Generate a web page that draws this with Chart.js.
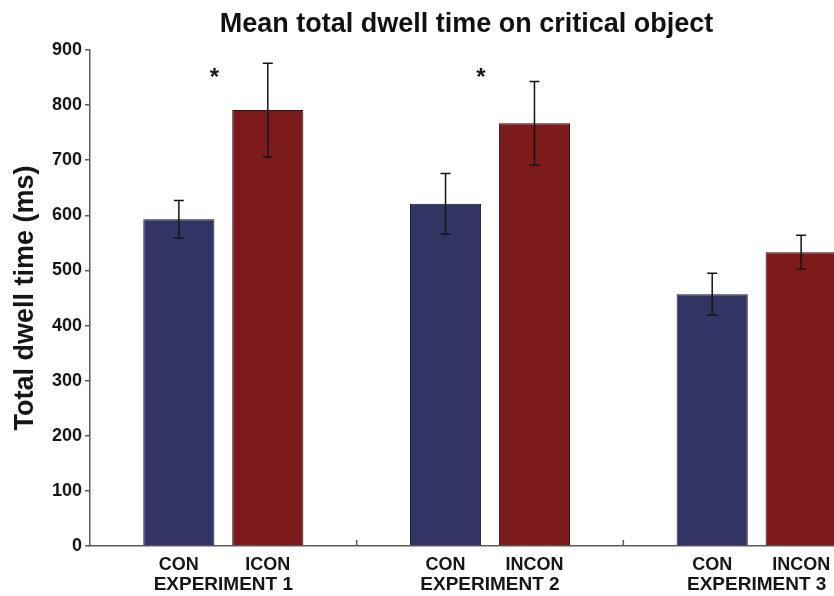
<!DOCTYPE html>
<html>
<head>
<meta charset="utf-8">
<title>Mean total dwell time on critical object</title>
<script src="https://cdn.jsdelivr.net/npm/chart.js@4.4.1/dist/chart.umd.min.js"></script>
<style>
  html, body { margin: 0; padding: 0; background: #ffffff; overflow: hidden; }
  #frame { width: 834px; height: 596px; overflow: hidden; position: relative; }
  #chart { display: block; }
</style>
</head>
<body>
<div id="frame">
  <canvas id="chart" width="900" height="596" style="width:900px;height:596px"></canvas>
</div>
<script>
// Experiments (x categories)
const experiments = ["EXPERIMENT 1", "EXPERIMENT 2", "EXPERIMENT 3"];

// Condition names printed under each bar
const conLabels = ["CON", "CON", "CON"];
const inconLabels = ["ICON", "INCON", "INCON"];

// Mean total dwell time (ms) and error half-widths
const conMeans = [593, 621, 457];
const conErrors = [34, 55, 38];
const inconMeans = [791, 767, 533];
const inconErrors = [85, 76, 31];

// Significance markers per experiment, and the level they sit at
const sigMarks = ["*", "*", ""];
const sigLevel = 860;

// Y axis ticks
const yTicks = [0, 100, 200, 300, 400, 500, 600, 700, 800, 900];

const FONT = "'Liberation Sans', Arial, Helvetica, sans-serif";
const AXIS_COLOR = '#5a5a5a';
const TEXT_COLOR = '#161616';

// Error bars, per-bar condition names, significance stars and
// inward tick marks between experiment groups.
const annotations = {
  id: 'annotations',
  afterDraw(chart) {
    const { ctx, chartArea, scales: { x, y } } = chart;
    ctx.save();

    // inward ticks on the x axis between groups
    ctx.strokeStyle = AXIS_COLOR;
    ctx.lineWidth = 1.5;
    for (let i = 0; i < experiments.length - 1; i++) {
      const px = (x.getPixelForValue(i) + x.getPixelForValue(i + 1)) / 2;
      ctx.beginPath();
      ctx.moveTo(px, chartArea.bottom);
      ctx.lineTo(px, chartArea.bottom - 6);
      ctx.stroke();
    }

    chart.data.datasets.forEach((ds, di) => {
      const meta = chart.getDatasetMeta(di);
      meta.data.forEach((bar, i) => {
        // error bar
        const v = ds.data[i];
        const e = ds.errors[i];
        const top = y.getPixelForValue(v + e);
        const bot = y.getPixelForValue(v - e);
        const cap = 5;
        ctx.strokeStyle = '#141414';
        ctx.lineWidth = 1.5;
        ctx.beginPath();
        ctx.moveTo(bar.x, top); ctx.lineTo(bar.x, bot);
        ctx.moveTo(bar.x - cap, top); ctx.lineTo(bar.x + cap, top);
        ctx.moveTo(bar.x - cap, bot); ctx.lineTo(bar.x + cap, bot);
        ctx.stroke();

        // condition name under the bar
        ctx.fillStyle = TEXT_COLOR;
        ctx.font = 'bold 18px ' + FONT;
        ctx.textAlign = 'center';
        ctx.textBaseline = 'middle';
        ctx.fillText(ds.names[i], bar.x, chartArea.bottom + 19);
      });
    });

    // significance stars
    ctx.fillStyle = TEXT_COLOR;
    ctx.font = 'bold 24px ' + FONT;
    ctx.textAlign = 'center';
    ctx.textBaseline = 'middle';
    sigMarks.forEach((m, i) => {
      if (!m) return;
      ctx.fillText(m, x.getPixelForValue(i) - 9, y.getPixelForValue(sigLevel) + 6);
    });

    // chart title
    ctx.font = 'bold 27px ' + FONT;
    ctx.textBaseline = 'alphabetic';
    ctx.fillStyle = '#111111';
    ctx.fillText('Mean total dwell time on critical object',
      chartArea.left + (chartArea.right - chartArea.left) * 0.4706, 32);

    ctx.restore();
  }
};

new Chart(document.getElementById('chart'), {
  type: 'bar',
  data: {
    labels: experiments,
    datasets: [
      {
        label: 'CON',
        data: conMeans,
        errors: conErrors,
        names: conLabels,
        backgroundColor: '#323463',
        borderColor: '#15152a',
        borderWidth: 1,
        categoryPercentage: 0.667,
        barPercentage: 0.8
      },
      {
        label: 'INCON',
        data: inconMeans,
        errors: inconErrors,
        names: inconLabels,
        backgroundColor: '#7d1a1b',
        borderColor: '#2a1010',
        borderWidth: 1,
        categoryPercentage: 0.667,
        barPercentage: 0.8
      }
    ]
  },
  options: {
    responsive: false,
    animation: false,
    devicePixelRatio: 1,
    layout: { padding: { top: 50, right: 10, bottom: 0, left: 0 } },
    plugins: {
      legend: { display: false },
      title: { display: false },
      tooltip: { enabled: false }
    },
    scales: {
      x: {
        type: 'category',
        grid: { display: false },
        border: { display: true, color: AXIS_COLOR, width: 1.5 },
        ticks: {
          color: TEXT_COLOR,
          font: { family: FONT, size: 19, weight: 'bold' },
          padding: 19,
          maxRotation: 0,
          autoSkip: false
        },
        afterFit(scale) { scale.height = 50; }
      },
      y: {
        min: 0,
        max: 900,
        afterBuildTicks(scale) { scale.ticks = yTicks.map(v => ({ value: v })); },
        grid: {
          drawOnChartArea: false,
          drawTicks: true,
          tickLength: 5,
          color: AXIS_COLOR,
          lineWidth: 1.5
        },
        border: { display: true, color: AXIS_COLOR, width: 1.5 },
        ticks: {
          color: TEXT_COLOR,
          font: { family: FONT, size: 18, weight: 'bold' },
          padding: 3
        },
        title: {
          display: true,
          text: 'Total dwell time (ms)',
          color: TEXT_COLOR,
          font: { family: FONT, size: 27, weight: 'bold' },
          padding: { top: 9, bottom: 0 }
        },
        afterFit(scale) { scale.width = 90; }
      }
    }
  },
  plugins: [annotations]
});
</script>
</body>
</html>
